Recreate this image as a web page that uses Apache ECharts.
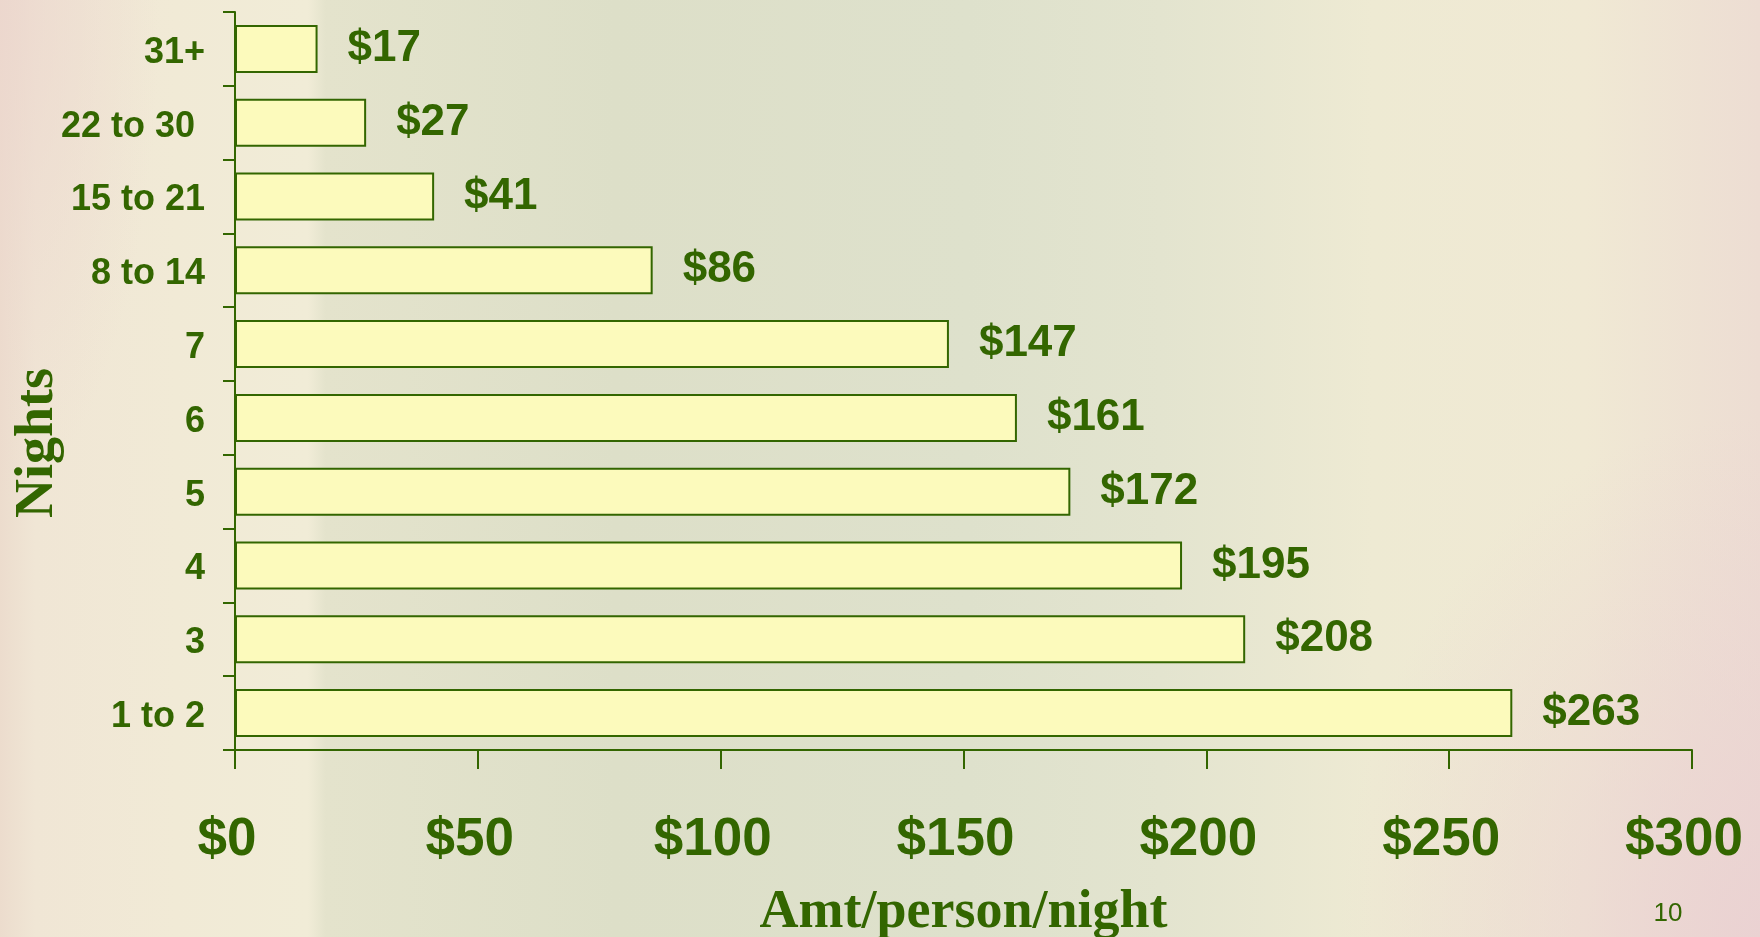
<!DOCTYPE html>
<html>
<head>
<meta charset="utf-8">
<script src="https://cdn.jsdelivr.net/npm/echarts@6/dist/echarts.min.js"></script>
<style>
html,body{margin:0;padding:0;width:1760px;height:937px;overflow:hidden;}
body{
  background:
    radial-gradient(ellipse 420px 520px at 100% 100%, rgba(234,208,210,0.85), rgba(234,208,210,0) 100%),
    radial-gradient(ellipse 160px 500px at 0% 0%, rgba(236,214,206,0.8), rgba(236,214,206,0) 100%),
    linear-gradient(to right, #ECDCCD 0%, #F0E6D5 2%, #F1EAD6 10%, #F1ECD7 17.5%, #E4E3CC 18.5%, #DDDFC8 35%, #DEE1CC 55%, #E3E4CF 66%, #EEEAD3 78%, #F0E9D4 90%, #EDDDD3 100%);
}
#chart{width:1760px;height:937px;}
</style>
</head>
<body>
<div id="chart"></div>
<script>
var categories = ['31+', '22 to 30 ', '15 to 21', '8 to 14', '7', '6', '5', '4', '3', '1 to 2'];
var values = [17, 27, 41, 86, 147, 161, 172, 195, 208, 263];
var xTicks = [0, 50, 100, 150, 200, 250, 300];

var green = '#336600';
var chart = echarts.init(document.getElementById('chart'), null, {renderer: 'canvas'});
chart.setOption({
  backgroundColor: 'transparent',
  animation: false,
  grid: {left: 235, right: 68, top: 12, bottom: 187, containLabel: false, outerBoundsMode: 'none'},
  xAxis: {
    type: 'value',
    min: xTicks[0],
    max: xTicks[xTicks.length - 1],
    interval: xTicks[1] - xTicks[0],
    axisLine: {show: true, lineStyle: {color: green, width: 2}},
    axisTick: {show: true, length: 19, lineStyle: {color: green, width: 2}},
    splitLine: {show: false},
    axisLabel: {
      margin: 64,
      padding: [0, 16, 0, 0],
      color: green,
      fontFamily: 'Liberation Sans, Arial, sans-serif',
      fontWeight: 'bold',
      fontSize: 53,
      formatter: function (v) { return '$' + v; }
    },
    name: 'Amt/person/night',
    nameLocation: 'middle',
    nameGap: 136,
    nameTextStyle: {
      color: green,
      fontFamily: 'Liberation Serif, Times New Roman, serif',
      fontWeight: 'bold',
      fontSize: 54
    }
  },
  yAxis: {
    type: 'category',
    inverse: true,
    data: categories,
    axisLine: {show: true, lineStyle: {color: green, width: 2}},
    axisTick: {show: true, length: 12, lineStyle: {color: green, width: 2}},
    axisLabel: {
      margin: 30,
      color: green,
      fontFamily: 'Liberation Sans, Arial, sans-serif',
      fontWeight: 'bold',
      fontSize: 36,
      formatter: function (v) { return '{a|' + v + '}'; },
      rich: {
        a: {
          color: green,
          fontFamily: 'Liberation Sans, Arial, sans-serif',
          fontWeight: 'bold',
          fontSize: 36,
          padding: [8, 0, 0, 0]
        }
      }
    }
  },
  series: [{
    type: 'bar',
    data: values,
    barWidth: 48,
    itemStyle: {color: '#FCFABC', borderColor: green, borderWidth: 2},
    label: {
      show: true,
      position: 'right',
      distance: 30,
      color: green,
      fontFamily: 'Liberation Sans, Arial, sans-serif',
      fontWeight: 'bold',
      fontSize: 44,
      formatter: function (p) { return '$' + p.value; }
    }
  }],
  graphic: [
    {
      type: 'text',
      x: 38, y: 443,
      rotation: Math.PI / 2,
      style: {
        text: 'Nights',
        fill: green,
        font: 'bold 54px "Liberation Serif", "Times New Roman", serif',
        textAlign: 'center',
        textVerticalAlign: 'middle'
      }
    },
    {
      type: 'text',
      x: 1668, y: 914,
      style: {
        text: '10',
        fill: green,
        font: '26px "Liberation Sans", Arial, sans-serif',
        textAlign: 'center',
        textVerticalAlign: 'middle'
      }
    }
  ]
});
</script>
</body>
</html>
